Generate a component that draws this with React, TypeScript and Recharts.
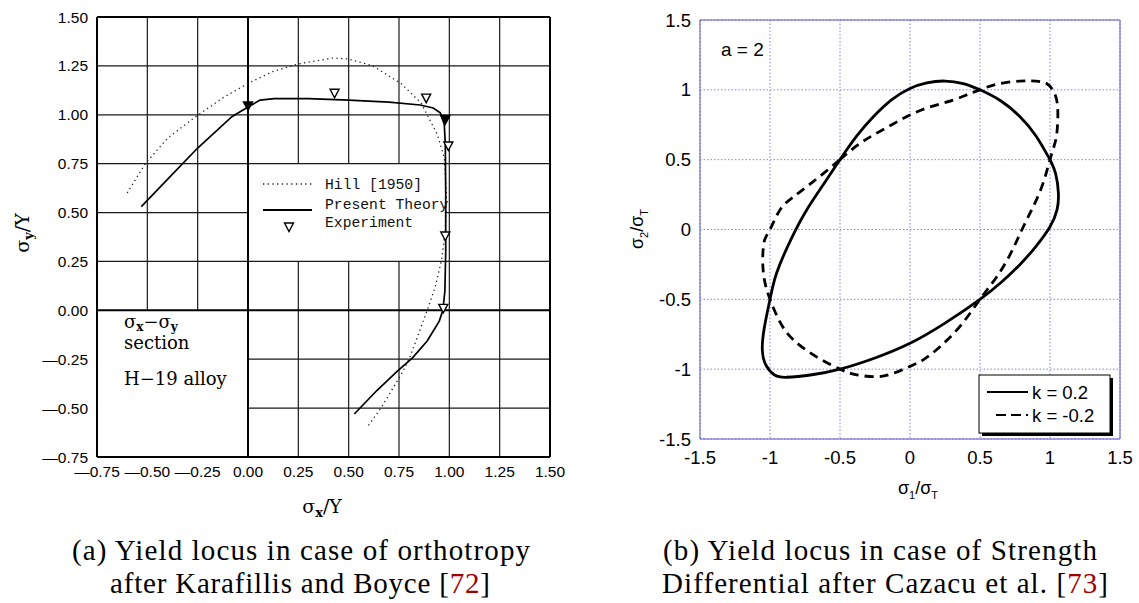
import React from 'react'
import { ComposedChart, Line, Scatter, XAxis, YAxis, CartesianGrid, ReferenceLine } from 'recharts'

type Pt = { x: number; y: number }

// (a) orthotropy, sigma_x - sigma_y section, H-19 alloy
const hill1950: Pt[] = [
  { x: -0.6, y: 0.6 }, { x: -0.51, y: 0.75 }, { x: -0.4, y: 0.88 }, { x: -0.26, y: 0.99 },
  { x: -0.12, y: 1.09 }, { x: 0.0, y: 1.16 }, { x: 0.12, y: 1.22 }, { x: 0.25, y: 1.26 },
  { x: 0.42, y: 1.29 }, { x: 0.5, y: 1.285 }, { x: 0.62, y: 1.25 }, { x: 0.76, y: 1.16 },
  { x: 0.86, y: 1.06 }, { x: 0.94, y: 0.9 }, { x: 0.975, y: 0.78 }, { x: 0.985, y: 0.6 },
  { x: 0.98, y: 0.4 }, { x: 0.96, y: 0.25 }, { x: 0.93, y: 0.12 }, { x: 0.89, y: 0.0 },
  { x: 0.84, y: -0.14 }, { x: 0.8, y: -0.25 }, { x: 0.76, y: -0.33 }, { x: 0.66, y: -0.5 },
  { x: 0.59, y: -0.6 },
]

const presentTheory: Pt[] = [
  { x: -0.53, y: 0.53 }, { x: -0.4, y: 0.67 }, { x: -0.25, y: 0.83 }, { x: -0.08, y: 0.99 },
  { x: 0.0, y: 1.04 }, { x: 0.06, y: 1.075 }, { x: 0.13, y: 1.083 }, { x: 0.3, y: 1.083 },
  { x: 0.5, y: 1.075 }, { x: 0.7, y: 1.065 }, { x: 0.855, y: 1.05 }, { x: 0.92, y: 1.035 },
  { x: 0.955, y: 1.01 }, { x: 0.975, y: 0.95 }, { x: 0.98, y: 0.85 }, { x: 0.982, y: 0.6 },
  { x: 0.982, y: 0.3 }, { x: 0.978, y: 0.1 }, { x: 0.968, y: 0.0 }, { x: 0.95, y: -0.055 },
  { x: 0.89, y: -0.157 }, { x: 0.817, y: -0.243 }, { x: 0.742, y: -0.311 }, { x: 0.64, y: -0.41 },
  { x: 0.528, y: -0.53 },
]

const experiment: Pt[] = [
  { x: 0.0, y: 1.045 }, { x: 0.43, y: 1.11 }, { x: 0.885, y: 1.085 }, { x: 0.98, y: 0.975 },
  { x: 0.995, y: 0.84 }, { x: 0.98, y: 0.38 }, { x: 0.97, y: 0.01 },
]

const ticksA = [-0.75, -0.5, -0.25, 0, 0.25, 0.5, 0.75, 1, 1.25, 1.5]

// (b) strength differential, a = 2
const kPos: Pt[] = [
  { x: 1.0, y: 0.5 }, { x: 0.9, y: 0.67 }, { x: 0.786, y: 0.807 }, { x: 0.65, y: 0.92 },
  { x: 0.5, y: 1.0 }, { x: 0.38, y: 1.045 }, { x: 0.25, y: 1.063 }, { x: 0.12, y: 1.05 },
  { x: 0.0, y: 1.01 }, { x: -0.13, y: 0.93 }, { x: -0.262, y: 0.807 }, { x: -0.38, y: 0.67 },
  { x: -0.5, y: 0.5 }, { x: -0.62, y: 0.32 }, { x: -0.738, y: 0.14 }, { x: -0.85, y: -0.07 },
  { x: -0.952, y: -0.31 }, { x: -1.0, y: -0.5 }, { x: -1.04, y: -0.7 }, { x: -1.055, y: -0.86 },
  { x: -1.03, y: -0.97 }, { x: -0.97, y: -1.04 }, { x: -0.88, y: -1.058 }, { x: -0.7, y: -1.04 },
  { x: -0.5, y: -1.0 }, { x: -0.25, y: -0.92 }, { x: 0.0, y: -0.815 }, { x: 0.25, y: -0.67 },
  { x: 0.5, y: -0.5 }, { x: 0.65, y: -0.38 }, { x: 0.786, y: -0.25 }, { x: 0.9, y: -0.12 },
  { x: 1.0, y: 0.02 }, { x: 1.05, y: 0.14 }, { x: 1.06, y: 0.26 }, { x: 1.04, y: 0.4 },
  { x: 1.0, y: 0.5 },
]

const kNeg: Pt[] = [
  { x: -0.5, y: 0.5 }, { x: -0.38, y: 0.6 }, { x: -0.262, y: 0.676 }, { x: -0.13, y: 0.75 },
  { x: 0.0, y: 0.82 }, { x: 0.15, y: 0.88 }, { x: 0.31, y: 0.927 }, { x: 0.42, y: 0.97 },
  { x: 0.5, y: 1.0 }, { x: 0.62, y: 1.04 }, { x: 0.786, y: 1.063 }, { x: 0.9, y: 1.062 },
  { x: 0.976, y: 1.045 }, { x: 1.03, y: 0.98 }, { x: 1.055, y: 0.87 }, { x: 1.05, y: 0.7 },
  { x: 1.03, y: 0.6 }, { x: 1.0, y: 0.5 }, { x: 0.95, y: 0.33 }, { x: 0.88, y: 0.163 },
  { x: 0.8, y: 0.0 }, { x: 0.72, y: -0.17 }, { x: 0.62, y: -0.338 }, { x: 0.5, y: -0.5 },
  { x: 0.36, y: -0.69 }, { x: 0.214, y: -0.839 }, { x: 0.1, y: -0.93 }, { x: 0.0, y: -0.98 },
  { x: -0.12, y: -1.03 }, { x: -0.238, y: -1.054 }, { x: -0.38, y: -1.04 }, { x: -0.5, y: -1.0 },
  { x: -0.67, y: -0.91 }, { x: -0.833, y: -0.79 }, { x: -0.93, y: -0.66 }, { x: -1.0, y: -0.5 },
  { x: -1.04, y: -0.36 }, { x: -1.052, y: -0.218 }, { x: -1.04, y: -0.08 }, { x: -1.0, y: 0.0 },
  { x: -0.929, y: 0.14 }, { x: -0.838, y: 0.23 }, { x: -0.738, y: 0.306 }, { x: -0.62, y: 0.4 },
  { x: -0.5, y: 0.5 },
]

const ticksB = [-1.5, -1, -0.5, 0, 0.5, 1, 1.5]

// the scanned plot uses a long dash as minus sign
const fmtA = (v: number) => v.toFixed(2).replace('-', '\u2014')

// grid of (a): pieces left out behind the legend and the text in the lower-left quadrant
const gridA: [number, number, number, number][] = [
  [-0.5, 0, -0.5, 1.5], [-0.25, 0, -0.25, 1.5],
  [0.25, -0.75, 0.25, 0.25], [0.25, 0.75, 0.25, 1.5],
  [0.5, -0.75, 0.5, 0.25], [0.5, 0.75, 0.5, 1.5],
  [0.75, -0.75, 0.75, 0.25], [0.75, 0.75, 0.75, 1.5],
  [1, -0.75, 1, 1.5], [1.25, -0.75, 1.25, 1.5],
  [0, -0.5, 1.5, -0.5], [0, -0.25, 1.5, -0.25],
  [-0.75, 0.25, 1.5, 0.25], [-0.75, 0.5, 0, 0.5], [0.98, 0.5, 1.5, 0.5],
  [-0.75, 0.75, 1.5, 0.75], [-0.75, 1, 1.5, 1], [-0.75, 1.25, 1.5, 1.25],
]
const frameA: [number, number, number, number][] = [
  [-0.75, 1.5, 1.5, 1.5], [1.5, -0.75, 1.5, 1.5], [-0.75, -0.75, 1.5, -0.75], [-0.75, -0.75, -0.75, 1.5],
  [0, -0.75, 0, 1.5], [-0.75, 0, 1.5, 0],
]

const Triangle = (props: any) => {
  const { cx, cy, index } = props
  const filled = index === 0 || index === 3
  return (
    <path
      d={`M${cx - 4.5},${cy - 4} L${cx + 4.5},${cy - 4} L${cx},${cy + 4.5} Z`}
      fill={filled ? '#000' : '#fff'}
      stroke="#000"
      strokeWidth={1.4}
    />
  )
}

const tickA = { fill: '#000', fontSize: 15.5, fontFamily: 'Liberation Sans, Arial, sans-serif' }
const tickB = { fill: '#000', fontSize: 18.5, fontFamily: 'Liberation Sans, Arial, sans-serif' }
const blue = '#5a5ac4'

function ChartA() {
  return (
    <ComposedChart width={600} height={530} margin={{ top: 17, right: 50, bottom: 33, left: 0 }}>
      <XAxis dataKey="x" type="number" domain={[-0.75, 1.5]} ticks={ticksA} interval={0} allowDataOverflow
        height={40} axisLine={false} tickLine={false} tickMargin={3} tickFormatter={fmtA} tick={tickA} />
      <YAxis dataKey="y" type="number" domain={[-0.75, 1.5]} ticks={ticksA} interval={0} allowDataOverflow
        width={97} axisLine={false} tickLine={false} tickMargin={3} tickFormatter={fmtA} tick={tickA} />
      {gridA.map(([x1, y1, x2, y2], i) => (
        <ReferenceLine key={'g' + i} segment={[{ x: x1, y: y1 }, { x: x2, y: y2 }]} stroke="#1a1a1a" strokeWidth={1.2} />
      ))}
      {frameA.map(([x1, y1, x2, y2], i) => (
        <ReferenceLine key={'f' + i} segment={[{ x: x1, y: y1 }, { x: x2, y: y2 }]} stroke="#000" strokeWidth={2} />
      ))}
      <Line data={hill1950} dataKey="y" type="linear" stroke="#222" strokeWidth={1.3} strokeDasharray="1.3 3.4"
        dot={false} activeDot={false} isAnimationActive={false} />
      <Line data={presentTheory} dataKey="y" type="linear" stroke="#000" strokeWidth={1.7}
        dot={false} activeDot={false} isAnimationActive={false} />
      <Scatter data={experiment} dataKey="y" shape={Triangle} isAnimationActive={false} />
    </ComposedChart>
  )
}

function ChartB() {
  return (
    <ComposedChart width={519} height={510} margin={{ top: 20, right: 19, bottom: 31, left: 0 }}>
      <CartesianGrid stroke="#8585e6" strokeDasharray="1.5 2" strokeWidth={1} />
      <XAxis dataKey="x" type="number" domain={[-1.5, 1.5]} ticks={ticksB} interval={0} allowDataOverflow
        height={40} axisLine={{ stroke: blue }} tickLine={false} tickMargin={6} tick={tickB} />
      <YAxis dataKey="y" type="number" domain={[-1.5, 1.5]} ticks={ticksB} interval={0} allowDataOverflow
        width={80} axisLine={{ stroke: blue }} tickLine={false} tickMargin={3} tick={tickB} />
      <ReferenceLine y={1.5} stroke={blue} strokeWidth={1} />
      <ReferenceLine x={1.5} stroke={blue} strokeWidth={1} />
      <Line data={kPos} dataKey="y" type="natural" stroke="#000" strokeWidth={2.8}
        dot={false} activeDot={false} isAnimationActive={false} />
      <Line data={kNeg} dataKey="y" type="natural" stroke="#000" strokeWidth={2.8} strokeDasharray="9 6"
        dot={false} activeDot={false} isAnimationActive={false} />
    </ComposedChart>
  )
}

const serif = 'DejaVu Serif, serif'
const capFont = 'Liberation Serif, Times New Roman, serif'
const sans = 'Liberation Sans, Arial, sans-serif'
const mono = 'Liberation Mono, monospace'

export default function App() {
  return (
    <div style={{ position: 'absolute', left: 0, top: 0, width: 1139, height: 603, background: '#fff', overflow: 'hidden' }}>
      <div style={{ position: 'absolute', left: 0, top: 0 }}>
        <ChartA />
      </div>
      <div style={{ position: 'absolute', left: 620, top: 0 }}>
        <ChartB />
      </div>
      <svg width={1139} height={603} style={{ position: 'absolute', left: 0, top: 0, pointerEvents: 'none' }}>
        {/* (a) axis titles */}
        <text x={322} y={513} textAnchor="middle" fontFamily={serif} fontSize={19}>
          σ<tspan fontWeight="bold" fontSize={13} dy={4}>x</tspan><tspan dy={-4}>/Y</tspan>
        </text>
        <text transform="translate(29,233) rotate(-90)" textAnchor="middle" fontFamily={serif} fontSize={19}>
          σ<tspan fontWeight="bold" fontSize={13} dy={4}>y</tspan><tspan dy={-4}>/Y</tspan>
        </text>
        {/* (a) legend */}
        <line x1={263} x2={312} y1={184} y2={184} stroke="#222" strokeWidth={1.3} strokeDasharray="1.3 3.4" />
        <text x={325} y={189} fontFamily={mono} fontSize={14.7} fill="#111">Hill [1950]</text>
        <line x1={263} x2={312} y1={210} y2={210} stroke="#000" strokeWidth={1.8} />
        <text x={325} y={209} fontFamily={mono} fontSize={14.7} fill="#111">Present Theory</text>
        <path d="M284.5,223 L293.5,223 L289,231.5 Z" fill="#fff" stroke="#000" strokeWidth={1.4} />
        <text x={325} y={227} fontFamily={mono} fontSize={14.7} fill="#111">Experiment</text>
        {/* (a) section note */}
        <text x={124} y={328} fontFamily={serif} fontSize={18}>
          σ<tspan fontWeight="bold" fontSize={12} dy={3}>x</tspan><tspan dy={-3}>−σ</tspan><tspan fontWeight="bold" fontSize={12} dy={3}>y</tspan>
        </text>
        <text x={124} y={349} fontFamily={serif} fontSize={18}>section</text>
        <text x={124} y={385} fontFamily={serif} fontSize={18}>H−19 alloy</text>

        {/* (b) annotations */}
        <text x={721} y={56} fontFamily={sans} fontSize={19}>a = 2</text>
        <text x={918} y={494} textAnchor="middle" fontFamily={sans} fontSize={18}>
          σ<tspan fontSize={11} dy={5}>1</tspan><tspan dy={-5}>/σ</tspan><tspan fontSize={11} dy={5}>T</tspan>
        </text>
        <text transform="translate(643,229) rotate(-90)" textAnchor="middle" fontFamily={sans} fontSize={18}>
          σ<tspan fontSize={11} dy={5}>2</tspan><tspan dy={-5}>/σ</tspan><tspan fontSize={11} dy={5}>T</tspan>
        </text>
        {/* (b) legend */}
        <rect x={982} y={378} width={131} height={58} fill="#000" />
        <rect x={979} y={375} width={131} height={58} fill="#fff" stroke="#000" strokeWidth={1} />
        <line x1={987} x2={1028} y1={392} y2={392} stroke="#000" strokeWidth={2} />
        <text x={1032} y={398.5} fontFamily={sans} fontSize={18.5}>k = 0.2</text>
        <line x1={996} x2={1028} y1={415} y2={415} stroke="#000" strokeWidth={2} strokeDasharray="10 5" />
        <text x={1032} y={421.5} fontFamily={sans} fontSize={18.5}>k = -0.2</text>

        {/* captions */}
        <text x={301} y={560} textAnchor="middle" fontFamily={capFont} fontSize={29} textLength={458} lengthAdjust="spacing">
          (a) Yield locus in case of orthotropy
        </text>
        <text x={300} y={593} textAnchor="middle" fontFamily={capFont} fontSize={29} textLength={380} lengthAdjust="spacing">
          after Karafillis and Boyce [<tspan fill="#a00000">72</tspan>]
        </text>
        <text x={880} y={560} textAnchor="middle" fontFamily={capFont} fontSize={29} textLength={434} lengthAdjust="spacing">
          (b) Yield locus in case of Strength
        </text>
        <text x={885} y={593} textAnchor="middle" fontFamily={capFont} fontSize={29} textLength={446} lengthAdjust="spacing">
          Differential after Cazacu et al. [<tspan fill="#a00000">73</tspan>]
        </text>
      </svg>
    </div>
  )
}
